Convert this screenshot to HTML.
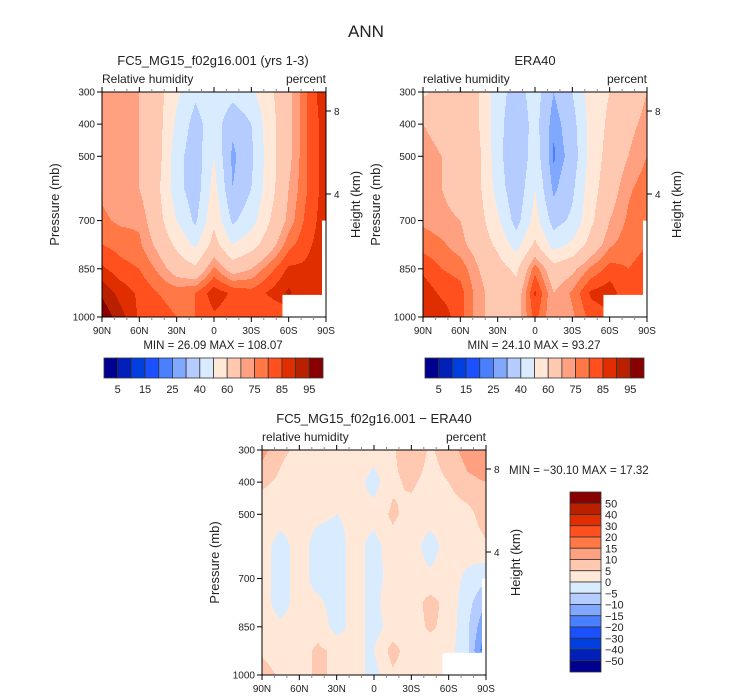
<!DOCTYPE html>
<html><head><meta charset="utf-8">
<style>
html,body{margin:0;padding:0;background:#fff;}
svg{display:block;font-family:"Liberation Sans",sans-serif;fill:#222;}
</style></head>
<body>
<svg id="fig" width="733" height="699" viewBox="0 0 733 699" xmlns="http://www.w3.org/2000/svg">
<text x="366" y="37" font-size="17" text-anchor="middle">ANN</text>
<g id="panels"></g>
</svg>
<script>
const lats=[90,75,60,45,30,15,0,-15,-30,-45,-60,-75,-90];
const pLevels=[300,400,500,600,700,775,850,925,1000];
const rhModel=[
[72,74,70,64,52,42,48,44,48,58,68,80,90],
[74,74,70,64,48,36,46,32,40,56,68,80,88],
[74,72,70,64,44,34,50,28,38,56,68,80,88],
[74,72,70,62,44,34,54,30,40,56,70,80,88],
[76,74,74,64,50,38,58,38,46,60,72,82,88],
[80,78,76,68,58,48,64,50,56,66,78,84,88],
[86,82,80,74,66,62,76,66,70,78,86,86,88],
[94,88,84,80,78,80,88,84,82,86,91,86,88],
[99,92,84,82,80,80,84,82,80,80,80,80,80]];
const rhEra=[
[58,64,66,60,45,35,45,30,40,55,60,65,70],
[70,68,66,60,44,32,44,26,36,54,62,68,72],
[72,70,66,62,44,30,46,24,34,54,64,70,75],
[72,70,66,62,46,32,50,28,38,56,66,74,78],
[74,72,70,64,52,36,54,36,42,58,70,76,80],
[78,76,72,66,58,46,62,46,52,64,74,78,80],
[84,80,78,70,64,58,78,64,68,76,82,80,82],
[88,84,82,72,66,64,86,70,76,86,88,80,84],
[90,88,82,72,66,66,82,70,74,82,84,80,84]];
const rhDiff=[
[12,6,4,3,4,4,2,4,10,4,8,12,14],
[6,4,2,2,2,2,-2,4,6,3,5,9,10],
[2,2,2,1,0,1,2,6,3,2,2,3,8],
[2,-2,2,-2,-2,2,-2,3,2,-2,2,2,4],
[2,-2,2,-2,-2,2,-2,2,2,1,2,-1,-4],
[2,-2,2,1,-2,2,-2,4,2,7,3,-3,-10],
[2,1,2,3,-2,2,-2,2,2,6,3,-4,-15],
[4,1,3,6,4,0,0,7,2,2,2,-4,-20],
[8,4,3,6,4,2,-2,4,2,2,2,2,2]];
const levRH=[5,10,15,20,25,30,40,50,60,70,75,80,85,90,95];
const levDiff=[-50,-40,-30,-20,-15,-10,-5,0,5,10,15,20,30,40,50];
const rhLabels=["5","15","25","40","60","75","85","95"];
const diffLabels=["50","40","30","20","15","10","5","0","−5","−10","−15","−20","−30","−40","−50"];
const xTickLabels=["90N","60N","30N","0","30S","60S","90S"];
const pTicks=[300,400,500,700,850,1000];
const hTicks=[8,4];
const colors=["#000090","#0020b8","#0040e0","#1a50ff","#4a80ff","#80a8ff","#b4ccff","#d8ebff","#ffe8d8","#ffc8b0","#ffa080","#ff7846","#ff501e","#e02e00","#b82000","#880000"];

const NS="http://www.w3.org/2000/svg";
const root=document.getElementById('panels');
function mk(tag,attrs,parent){const e=document.createElementNS(NS,tag);for(const k in attrs)e.setAttribute(k,attrs[k]);(parent||root).appendChild(e);return e;}
function txt(x,y,s,size,anchor,parent,name,rot){const t=mk('text',{x:x,y:y,'font-size':size,'text-anchor':anchor||'start'},parent);if(rot)t.setAttribute('transform','rotate(-90 '+x+' '+y+')');t.textContent=s;


return t;}
function interp(grid,lat,p){
  let i=0;while(i<lats.length-2&&lat<lats[i+1])i++;
  let j=0;while(j<pLevels.length-2&&p>pLevels[j+1])j++;
  const fx=(lats[i]-lat)/(lats[i]-lats[i+1]);const fy=(p-pLevels[j])/(pLevels[j+1]-pLevels[j]);
  const a=grid[j][i],b=grid[j][i+1],c=grid[j+1][i],d=grid[j+1][i+1];
  return (a*(1-fx)+b*fx)*(1-fy)+(c*(1-fx)+d*fx)*fy;}
function lev(v,levs){let k=0;while(k<levs.length&&v>=levs[k])k++;return k;}

function panel(o){
  const g=mk('g',{});
  
  
  const x0=o.x,y0=o.y,w=224,h=225;
  const xs=lat=>x0+(90-lat)/180*w, ys=p=>y0+(p-300)/700*h;
  const cg=mk('g',{'shape-rendering':'crispEdges'},g);
  
  
  for(let py=0;py<h;py++){
    const p=300+(py+0.5)/h*700;
    let start=0,cur=-1;
    for(let px=0;px<=w;px++){
      let k=-2;
      if(px<w){const lat=90-(px+0.5)/w*180;k=lev(interp(o.grid,lat,p),o.levs);}
      if(k!==cur){
        if(cur>=0){const r=mk('rect',{x:x0+start,y:y0+py,width:px-start,height:1,fill:colors[cur]},cg);
          
          }
        cur=k;start=px;}
    }
  }
  const m1=mk('rect',{x:xs(-55),y:ys(925)+2,width:xs(-90)-xs(-55),height:y0+h-ys(925)-2,fill:'#fff'},g);
  
  
  const m2=mk('rect',{x:x0+w-4,y:ys(700),width:4,height:h-(ys(700)-y0),fill:'#fff'},g);
  
  
  const fr=mk('rect',{x:x0,y:y0,width:w,height:h,fill:'none',stroke:'#000','stroke-width':1},g);
  
  
  for(let lat=90;lat>=-90;lat-=10){
    const x=xs(lat),maj=lat%30===0;
    mk('line',{x1:x,x2:x,y1:y0+h,y2:y0+h+(maj?5:3),stroke:maj?'#000':'#888'},g);
    mk('line',{x1:x,x2:x,y1:y0,y2:y0-(maj?5:3),stroke:maj?'#000':'#888'},g);
  }
  xTickLabels.forEach((s,i)=>txt(xs(90-30*i),y0+h+17,s,10,'middle',g,'x-tick-label'));
  pTicks.forEach(p=>{const y=ys(p);mk('line',{x1:x0-5,x2:x0,y1:y,y2:y,stroke:'#000'},g);
    txt(x0-7,y+3.5,String(p),10,'end',g,'y-tick-label');});
  hTicks.forEach((hk,i)=>{const y=y0+(i===0?19:102);mk('line',{x1:x0+w,x2:x0+w+5,y1:y,y2:y,stroke:'#000'},g);
    txt(x0+w+8,y+4,String(hk),10,'start',g,'height-tick-label');});
  txt(x0-43,y0+h/2,'Pressure (mb)',13,'middle',g,'y-axis-title',true);
  txt(x0+w+34,y0+h/2,'Height (km)',13,'middle',g,'height-axis-title',true);
  txt(x0+w/2+o.tdx,y0-27,o.title,13,'middle',g,'panel-title');
  txt(x0,y0-9,o.left,12,'start',g,'variable-label');
  txt(x0+w,y0-9,'percent',12,'end',g,'units-label');
  if(o.minmax)txt(o.mmx,o.mmy,o.minmax,11.5,o.mmanchor,g,'min-max-label');
  if(o.hbar){
    const bx=x0+2,by=358,bw=219/16;
    colors.forEach((c,i)=>{const r=mk('rect',{x:bx+i*bw,y:by,width:bw,height:20,fill:c,stroke:'#333','stroke-width':0.8},g);
      
      });
    rhLabels.forEach((s,i)=>txt(bx+(1+2*i)*bw,393,s,11,'middle',g,'colorbar-label'));
  } else {
    const bx=570,by=492,bh=180/16;
    colors.slice().reverse().forEach((c,i)=>{const r=mk('rect',{x:bx,y:by+i*bh,width:31,height:bh,fill:c,stroke:'#333','stroke-width':0.8},g);
      
      });
    diffLabels.forEach((s,i)=>txt(bx+35,by+(i+1)*bh+4,s,11,'start',g,'colorbar-label'));
  }
}
panel({name:'model-panel',x:102,y:92,grid:rhModel,levs:levRH,title:'FC5_MG15_f02g16.001 (yrs 1-3)',tdx:-1,left:'Relative humidity',
  minmax:'MIN =  26.09   MAX = 108.07',mmx:213,mmy:349,mmanchor:'middle',hbar:true});
panel({name:'era40-panel',x:423,y:92,grid:rhEra,levs:levRH,title:'ERA40',tdx:0,left:'relative humidity',
  minmax:'MIN =  24.10   MAX =  93.27',mmx:534,mmy:349,mmanchor:'middle',hbar:true});
panel({name:'difference-panel',x:262,y:450,grid:rhDiff,levs:levDiff,title:'FC5_MG15_f02g16.001 − ERA40',tdx:0,left:'relative humidity',
  minmax:'MIN = −30.10   MAX =  17.32',mmx:509,mmy:474,mmanchor:'start',hbar:false});
</script>
</body></html>
